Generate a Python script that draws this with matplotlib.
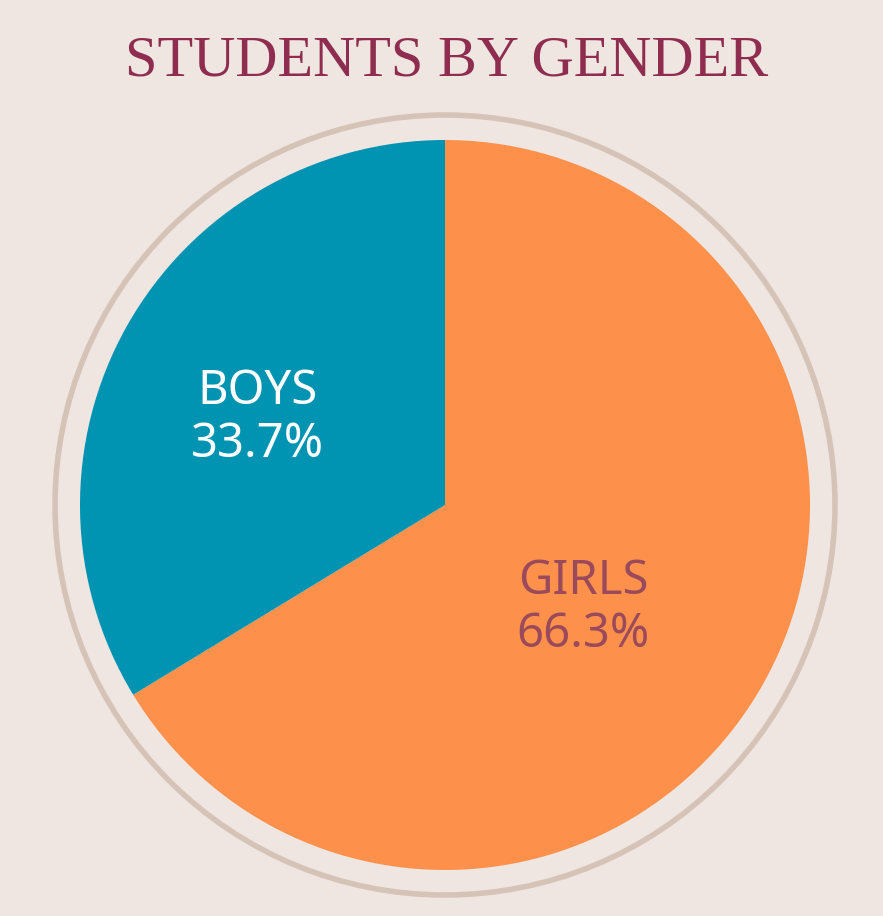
import matplotlib
matplotlib.use("Agg")
import matplotlib.pyplot as plt
from matplotlib.patches import Circle

labels = ["GIRLS", "BOYS"]
values = [66.3, 33.7]
colors = ["#FD914B", "#0194B2"]
label_colors = ["#9A4A5B", "#FFFFFF"]
label_pos = [(583, 608), (257, 418)]

W, H = 883, 916
fig = plt.figure(figsize=(W/100, H/100), dpi=100)
fig.patch.set_facecolor("#EFE6E1")
ax = fig.add_axes([0, 0, 1, 1])
ax.set_xlim(0, W); ax.set_ylim(H, 0); ax.set_aspect("equal"); ax.axis("off")

cx, cy = 445, 505
ax.add_patch(Circle((cx, cy), 390, facecolor="none", edgecolor="#D6C3B8", lw=4))
# inverted y axis flips orientation, so use counterclock=True to look clockwise
ax.pie(values, colors=colors, startangle=-90, counterclock=True,
       center=(cx, cy), radius=365, frame=True,
       wedgeprops=dict(linewidth=0))
ax.set_xlim(0, W); ax.set_ylim(H, 0); ax.axis("off")

for lab, v, c, (x, y) in zip(labels, values, label_colors, label_pos):
    ax.text(x, y, f"{lab}\n{v}%", ha="center", va="center", color=c,
            fontsize=34, fontweight="bold", family="Noto Sans", linespacing=1.15)

ax.text(447, 62, "STUDENTS BY GENDER", ha="center", va="center",
        color="#8E2D4F", fontsize=42, family="Liberation Serif")
fig.savefig("out.png", dpi=100, facecolor=fig.get_facecolor())
